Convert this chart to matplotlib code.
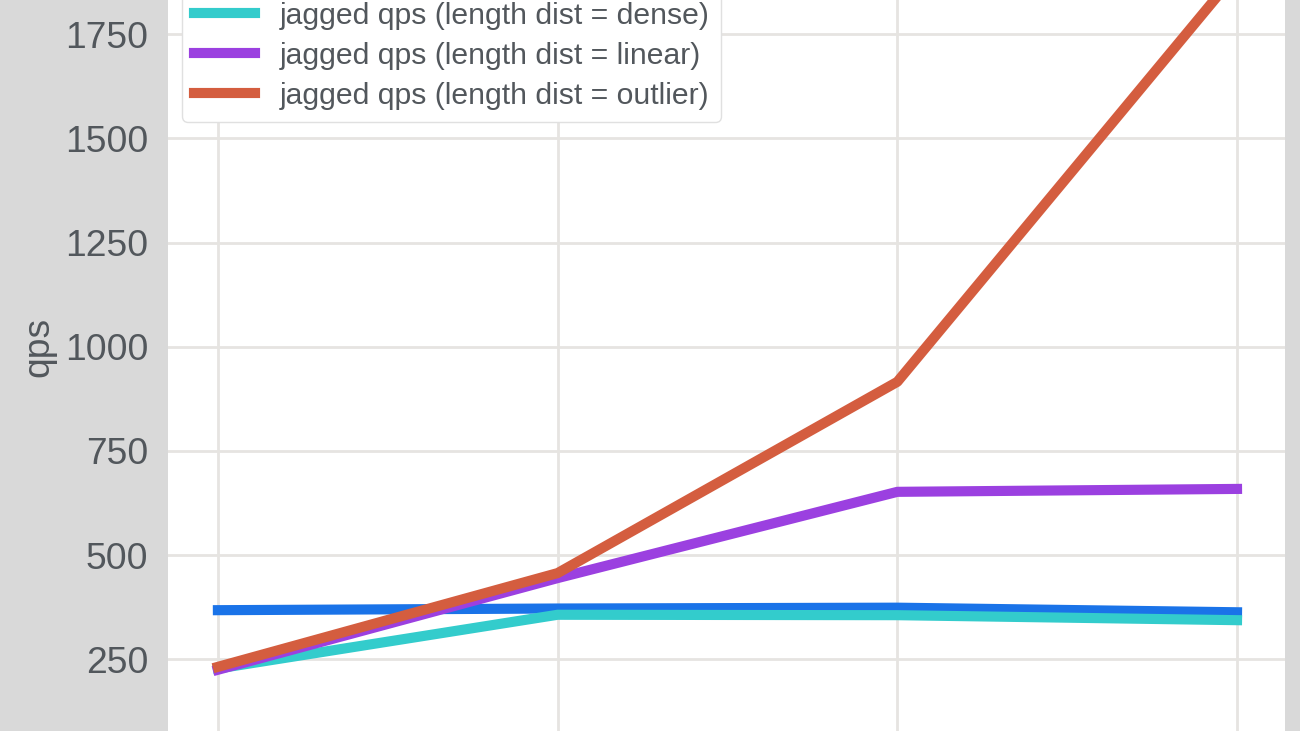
import matplotlib.pyplot as plt

# Chart data
steps = [1, 2, 3, 4]
dense_qps = [368, 372, 374, 363]
jagged_dense = [228, 357, 356, 344]
jagged_linear = [225, 445, 652, 659]
jagged_outlier = [232, 457, 916, 1898]

series_labels = [
    'dense qps',
    'jagged qps (length dist = dense)',
    'jagged qps (length dist = linear)',
    'jagged qps (length dist = outlier)',
]
series_colors = ['#1a73e8', '#33cccc', '#9b40e0', '#d45d3f']
y_ticks = [250, 500, 750, 1000, 1250, 1500, 1750]

text_color = '#52575c'
plt.rcParams['font.family'] = ['Liberation Sans', 'DejaVu Sans']

fig = plt.figure(figsize=(13, 7.31), dpi=100, facecolor='#d9d9d9')
# axes runs past the top and bottom of the figure, like the cropped original
ax = fig.add_axes([0.1292, -0.0445, 0.8592, 1.1401])
ax.set_facecolor('white')

for values, label, color in zip([dense_qps, jagged_dense, jagged_linear, jagged_outlier],
                                series_labels, series_colors):
    ax.plot(steps, values, color=color, linewidth=7.3, label=label)

ax.set_xlim(0.853, 4.141)
ax.set_ylim(0, 2000)
ax.set_xticks(steps)
ax.set_yticks(y_ticks)
ax.tick_params(axis='both', length=0, labelsize=26.8, colors=text_color, pad=14)
ax.tick_params(axis='x', labelbottom=False)
ax.set_ylabel('qps', fontsize=26.8, color=text_color, labelpad=6)

ax.grid(True, color='#e6e4e1', linewidth=2)
ax.set_axisbelow(True)
for spine in ax.spines.values():
    spine.set_visible(False)

leg = ax.legend(loc='lower left', bbox_to_anchor=(182 / 1300, (731 - 122) / 731),
                bbox_transform=fig.transFigure, fontsize=21.7, handlelength=2.03,
                handletextpad=0.8, labelspacing=0.4, borderaxespad=0,
                frameon=True, fancybox=True)
leg.get_frame().set_edgecolor('#e0e0e0')
leg.get_frame().set_alpha(1.0)
for text in leg.get_texts():
    text.set_color(text_color)

fig.savefig('out.png', dpi=100, facecolor=fig.get_facecolor())
